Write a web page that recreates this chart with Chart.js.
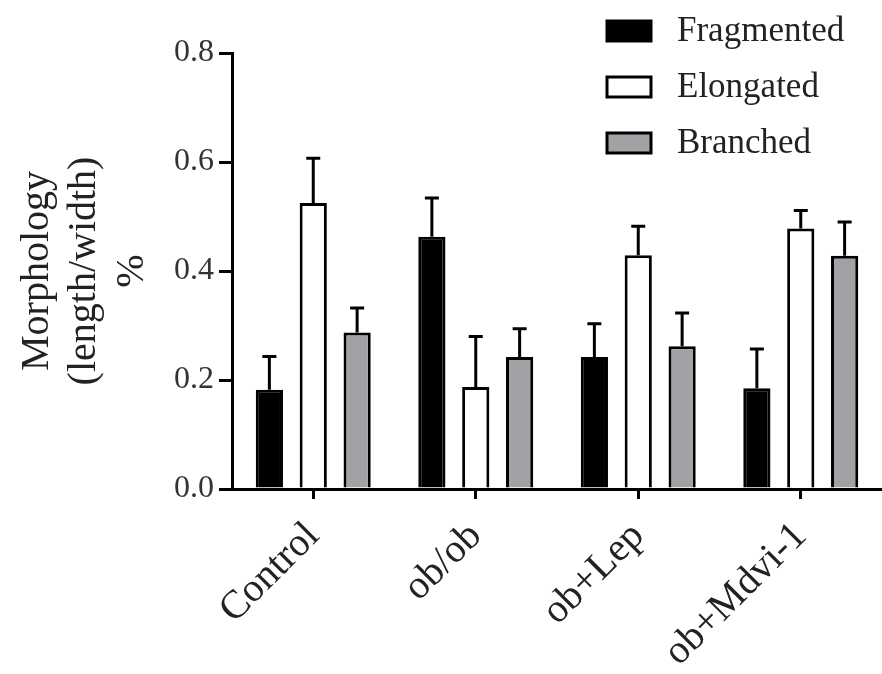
<!DOCTYPE html>
<html>
<head>
<meta charset="utf-8">
<script src="https://cdn.jsdelivr.net/npm/chart.js@4"></script>
<style>
  html, body { margin: 0; padding: 0; background: #fff; overflow: hidden; }
  #wrap { width: 882px; height: 674px; }
</style>
</head>
<body>
<div id="wrap"><canvas id="morphChart"></canvas></div>
<script>
// groups on the x axis
const groups = ['Control', 'ob/ob', 'ob+Lep', 'ob+Mdvi-1'];

// mean values
const fragmented = [0.182, 0.463, 0.242, 0.185];
const elongated = [0.525, 0.187, 0.429, 0.478];
const branched = [0.287, 0.242, 0.262, 0.428];

// error bar size (upper half only)
const fragmentedErr = [0.061, 0.071, 0.061, 0.072];
const elongatedErr = [0.082, 0.093, 0.053, 0.033];
const branchedErr = [0.045, 0.052, 0.061, 0.062];

// y axis ticks
const yTicks = [0, 0.2, 0.4, 0.6, 0.8];

const serif = '"Liberation Serif", "DejaVu Serif", serif';

// draws the upper error bar with a cap on each bar
const errorBars = {
  id: 'errorBars',
  afterDatasetsDraw(chart) {
    const ctx = chart.ctx;
    const y = chart.scales.y;
    ctx.save();
    ctx.strokeStyle = '#000';
    ctx.lineWidth = 3;
    chart.data.datasets.forEach((ds, i) => {
      const meta = chart.getDatasetMeta(i);
      meta.data.forEach((bar, j) => {
        const top = y.getPixelForValue(ds.data[j] + ds.errors[j]);
        ctx.beginPath();
        ctx.moveTo(bar.x, bar.y);
        ctx.lineTo(bar.x, top);
        ctx.moveTo(bar.x - 7, top);
        ctx.lineTo(bar.x + 7, top);
        ctx.stroke();
      });
    });
    ctx.restore();
  }
};

// legend stacked in the top right corner
const sideLegend = {
  id: 'sideLegend',
  afterDraw(chart) {
    const ctx = chart.ctx;
    ctx.save();
    ctx.font = '35px ' + serif;
    ctx.textBaseline = 'middle';
    chart.data.datasets.forEach((ds, i) => {
      const cy = 31 + i * 56;
      ctx.fillStyle = ds.backgroundColor;
      ctx.fillRect(607, cy - 10, 44, 20);
      ctx.strokeStyle = '#000';
      ctx.lineWidth = 3;
      ctx.strokeRect(607, cy - 10, 44, 20);
      ctx.fillStyle = '#222';
      ctx.fillText(ds.label, 677, cy + 1);
    });
    ctx.restore();
  }
};

const ctx = document.getElementById('morphChart');

new Chart(ctx, {
  type: 'bar',
  data: {
    labels: groups,
    datasets: [
      { label: 'Fragmented', data: fragmented, errors: fragmentedErr, backgroundColor: '#000000' },
      { label: 'Elongated', data: elongated, errors: elongatedErr, backgroundColor: '#ffffff' },
      { label: 'Branched', data: branched, errors: branchedErr, backgroundColor: '#a2a2a6' }
    ]
  },
  plugins: [errorBars, sideLegend],
  options: {
    responsive: true,
    maintainAspectRatio: false,
    animation: false,
    layout: { padding: { top: 53, right: 0, bottom: 0, left: 0 } },
    datasets: {
      bar: {
        borderColor: '#000',
        borderWidth: 3,
        categoryPercentage: 0.81,
        barPercentage: 0.62
      }
    },
    plugins: {
      legend: { display: false },
      tooltip: { enabled: false }
    },
    scales: {
      x: {
        grid: { display: true, offset: false, drawOnChartArea: false, color: '#000', lineWidth: 3, tickLength: 10 },
        border: { color: '#000', width: 3 },
        ticks: {
          color: '#222',
          font: { family: serif, size: 40 },
          minRotation: 45,
          maxRotation: 45,
          padding: 14
        },
        afterFit(scale) { scale.height = 674 - 489; }
      },
      y: {
        min: 0,
        max: 0.8,
        afterBuildTicks(scale) { scale.ticks = yTicks.map(v => ({ value: v })); },
        grid: { display: true, drawOnChartArea: false, color: '#000', lineWidth: 3, tickLength: 13 },
        border: { color: '#000', width: 3 },
        ticks: {
          color: '#333',
          font: { family: serif, size: 32 },
          padding: 5,
          callback: v => v.toFixed(1)
        },
        title: {
          display: true,
          text: ['Morphology', '(length/width)', '%'],
          color: '#222',
          font: { family: serif, size: 40, lineHeight: 1.18 },
          padding: { top: 14, bottom: 6 }
        },
        afterFit(scale) { scale.width = 232; }
      }
    }
  }
});
</script>
</body>
</html>
